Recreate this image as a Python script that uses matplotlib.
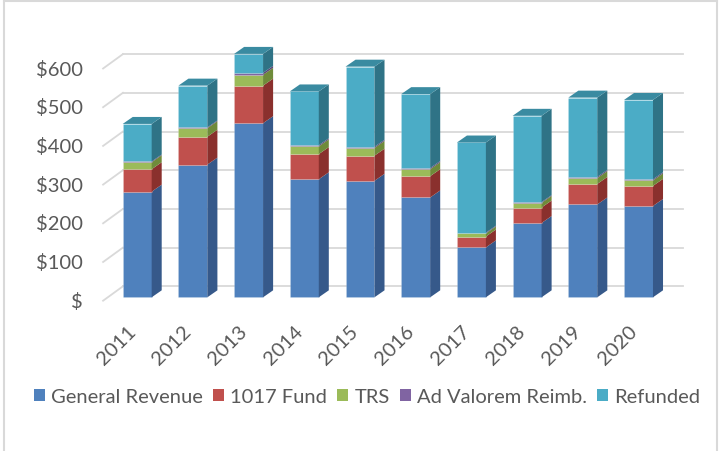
import numpy as np
import matplotlib
matplotlib.use("Agg")
import matplotlib.pyplot as plt
from matplotlib.patches import Rectangle, Polygon, Patch
from matplotlib.lines import Line2D

plt.rcParams['font.family'] = ['Lato', 'DejaVu Sans']

years = ['2011', '2012', '2013', '2014', '2015', '2016', '2017', '2018', '2019', '2020']
general_revenue = [273, 343, 450, 305, 301, 258, 129, 192, 240, 236]
fund_1017 = [58, 72, 97, 65, 65, 55, 28, 40, 53, 52]
trs = [18, 22, 28, 20, 20, 18, 8, 12, 15, 14]
ad_valorem = [2, 2, 5, 3, 3, 3, 2, 2, 3, 3]
refunded = [97, 108, 49, 139, 207, 191, 233, 223, 205, 205]

series_names = ['General Revenue', '1017 Fund', 'TRS', 'Ad Valorem Reimb.', 'Refunded']
series_vals = [general_revenue, fund_1017, trs, ad_valorem, refunded]
front_cols = ['#4F81BD', '#C0504D', '#9BBB59', '#8064A2', '#4BACC6']
side_cols = ['#36598A', '#8A302D', '#6F8B3A', '#5C4776', '#2F7386']
top_cols = ['#4472A8', '#A8403D', '#86A34A', '#6E568E', '#3A8BA1']

yticks = [0, 100, 200, 300, 400, 500, 600]
ytick_labels = ['$', '$100', '$200', '$300', '$400', '$500', '$600']

txt = '#595959'
grid = '#D9D9D9'
fs = 14.5

fig = plt.figure(figsize=(7.19, 4.52), dpi=100)
ax = fig.add_axes([0, 0, 1, 1])
ax.set_xlim(-2.463, 10.445)
ax.set_ylim(-397.2, 770.8)
ax.axis('off')

w = 0.52      # bar width
dx, dy = 0.18, 18     # depth of the bars
wx, wy = 0.356, 37.2  # depth to back wall

# back wall gridlines + floor slants
for v in yticks:
    ax.plot([-0.612, -0.612 + wx], [v - 8.8, v - 8.8 + wy], color=grid, lw=1.3, zorder=1)
    ax.plot([-0.612 + wx, 9.79], [v - 8.8 + wy, v - 8.8 + wy], color=grid, lw=1.3, zorder=1)

for v, lab in zip(yticks, ytick_labels):
    ax.text(-0.973, v - 9, lab, ha='right', va='center', fontsize=fs, color=txt)

# stacked 3D-ish bars
for i in range(len(years)):
    bottom = 0
    for k, vals in enumerate(series_vals):
        top = bottom + vals[i]
        x0, x1 = i - w / 2, i + w / 2
        ax.add_patch(Rectangle((x0, bottom), w, vals[i], facecolor=front_cols[k],
                               edgecolor=(1, 1, 1, 0.2), lw=0.5, zorder=3))
        ax.add_patch(Polygon([(x1, bottom), (x1 + dx, bottom + dy), (x1 + dx, top + dy), (x1, top)],
                             closed=True, facecolor=side_cols[k], edgecolor='none', zorder=3))
        if k == len(series_vals) - 1:
            ax.add_patch(Polygon([(x0, top), (x1, top), (x1 + dx, top + dy), (x0 + dx, top + dy)],
                                 closed=True, facecolor=top_cols[k], edgecolor='none', zorder=3))
        bottom = top
    ax.text(i - 0.08, -80, years[i], rotation=45, rotation_mode='anchor',
            ha='right', va='center', fontsize=fs, color=txt)

handles = [Patch(facecolor=c, edgecolor='none') for c in front_cols]
fig.legend(handles, series_names, loc='center', bbox_to_anchor=(367 / 719, 1 - 398 / 452),
           ncol=5, frameon=False, fontsize=fs, labelcolor=txt,
           handlelength=0.55, handleheight=0.55, handletextpad=0.3, columnspacing=0.5)

# chart border
for xs, ys in [([4 / 719, 4 / 719], [0, 1 - 1.5 / 452]),
               ([4 / 719, 716.5 / 719], [1 - 1.5 / 452, 1 - 1.5 / 452]),
               ([716.5 / 719, 716.5 / 719], [0, 1 - 1.5 / 452])]:
    fig.add_artist(Line2D(xs, ys, transform=fig.transFigure, color=grid, lw=1.5))

fig.savefig('out.png', dpi=100)
